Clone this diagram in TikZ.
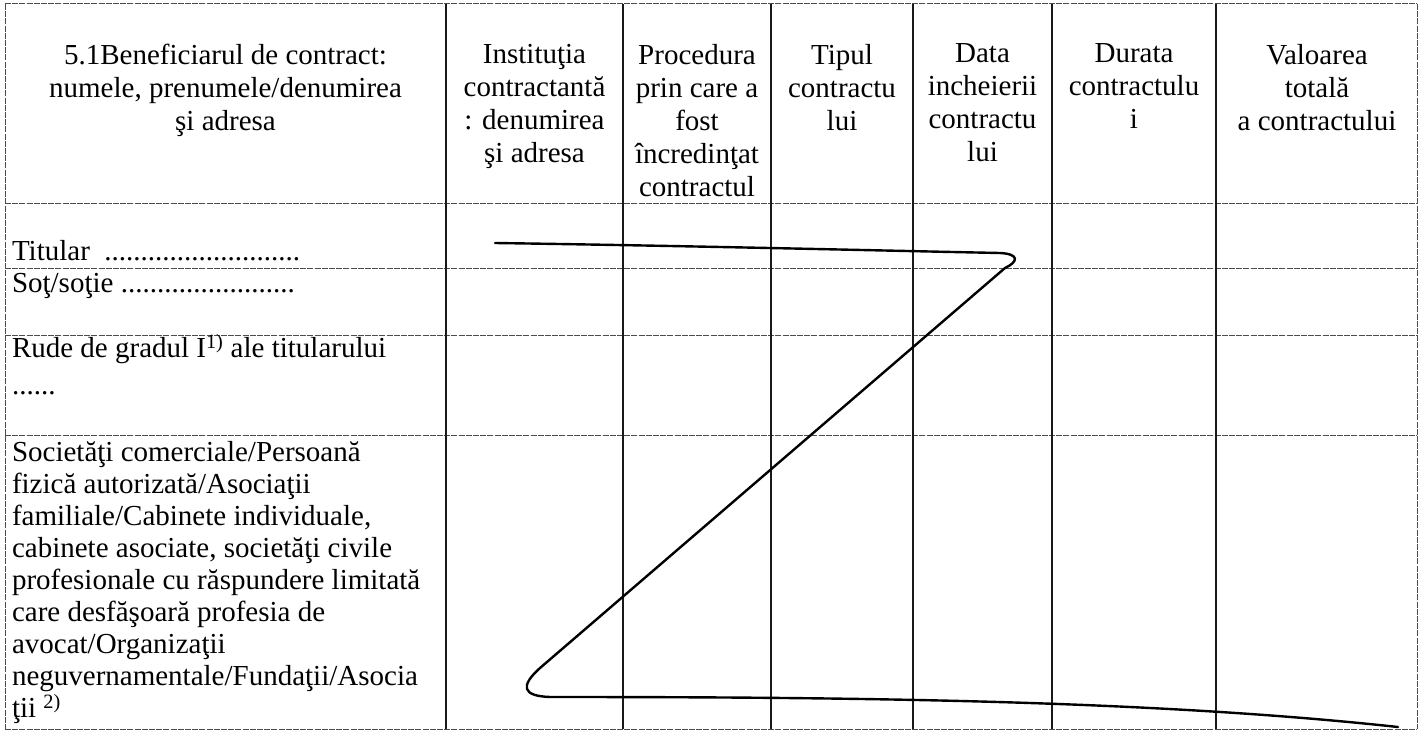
\documentclass[tikz,border=0pt]{standalone}
\usepackage{fontspec}
\setmainfont{Liberation Serif}
\begin{document}
\begin{tikzpicture}[x=1bp, y=-1bp, inner sep=0, outer sep=0,
  colline/.style={line width=1.3bp, black!90},
  rowline/.style={line width=1bp, black!70, dash pattern=on 6bp off 1.2bp},
  pen/.style={line width=2.4bp, line cap=round, line join=round},
  headcell/.style={anchor=north, align=center, font=\fontsize{29bp}{33bp}\selectfont},
  bodycell/.style={anchor=north west, align=left, font=\fontsize{29bp}{32bp}\selectfont}]
  \useasboundingbox (0,0) rectangle (1423,731);

% GRID
  \draw[rowline] (5,4) -- (1417,4);
  \draw[rowline] (5,203) -- (1417,203);
  \draw[rowline] (5,268) -- (1417,268);
  \draw[rowline] (5,335) -- (1417,335);
  \draw[rowline] (5,435) -- (1417,435);
  \draw[rowline] (5,729) -- (1417,729);

  \draw[rowline] (5,4) -- (5,729);
  \draw[colline] (446,4) -- (446,729);
  \draw[colline] (623,4) -- (623,729);
  \draw[colline] (771,4) -- (771,729);
  \draw[colline] (913,4) -- (913,729);
  \draw[colline] (1052,4) -- (1052,729);
  \draw[colline] (1216,4) -- (1216,729);
  \draw[rowline] (1417,4) -- (1417,729);

% HEADER
  \node[headcell] (head_benef) at (225.5,44)
    {5.1Beneficiarul de contract:\\numele, prenumele/denumirea\\şi adresa};
  \node[headcell] (head_inst) at (534.5,44)
    {Instituţia\\contractantă\\: denumirea\\şi adresa};
  \node[headcell] (head_proc) at (697,44)
    {Procedura\\prin care a\\fost\\încredinţat\\contractul};
  \node[headcell] (head_tip) at (842,44)
    {Tipul\\contractu\\lui};
  \node[headcell] (head_data) at (982.5,44)
    {Data\\incheierii\\contractu\\lui};
  \node[headcell] (head_dur) at (1134,44)
    {Durata\\contractulu\\i};
  \node[headcell] (head_val) at (1317,44)
    {Valoarea\\totală\\a contractului};

% ROWS
  \node[bodycell, anchor=base west] (row_titular) at (12,260)
    {Titular\ \ ...........................};
  \node[bodycell, anchor=base west] (row_sot) at (12,292)
    {Soţ/soţie ........................};
  \node[bodycell] (row_rude) at (12,334)
    {Rude de gradul I\textsuperscript{1)} ale titularului\\[5bp]......};
  \node[bodycell] (row_soc) at (12,441)
    {Societăţi comerciale/Persoană\\
     fizică autorizată/Asociaţii\\
     familiale/Cabinete individuale,\\
     cabinete asociate, societăţi civile\\
     profesionale cu răspundere limitată\\
     care desfăşoară profesia de\\
     avocat/Organizaţii\\
     neguvernamentale/Fundaţii/Asocia\\
     ţii \textsuperscript{2)}};

% STROKE
  \draw[pen] (495,243) .. controls (700,246) and (900,251) .. (1000,253)
    .. controls (1020,254) and (1018,262) .. (1005,268)
    -- (540,668)
    .. controls (520,686) and (522,696) .. (550,697)
    .. controls (850,697) and (1150,700) .. (1398,727);
\end{tikzpicture}
\end{document}
